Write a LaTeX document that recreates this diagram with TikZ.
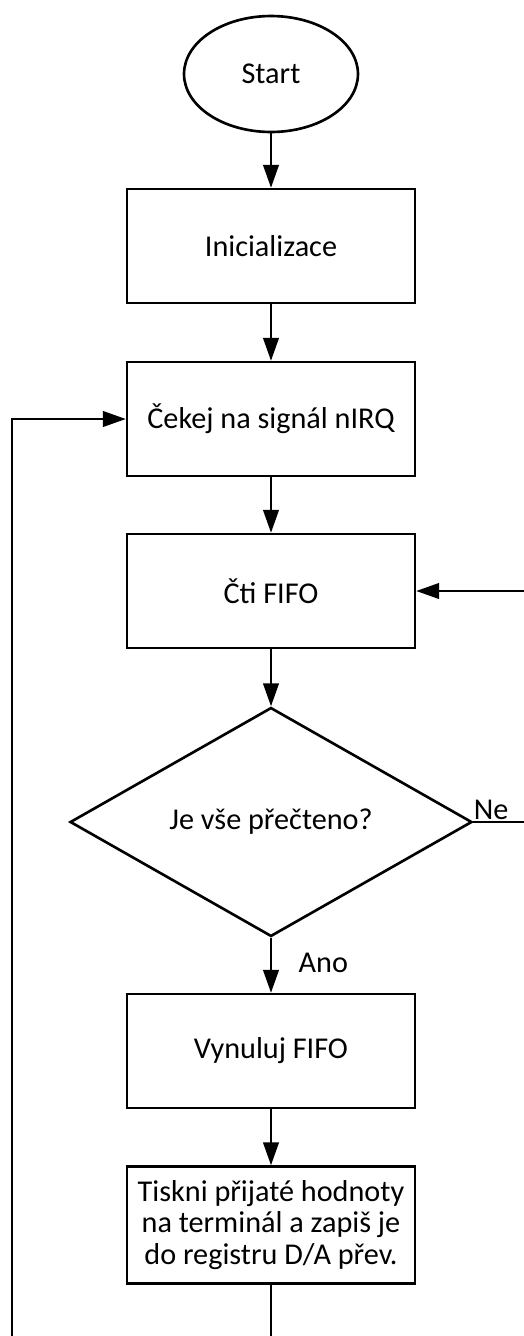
\documentclass[tikz,border=0pt]{standalone}
\usepackage{fontspec}
\setmainfont{Carlito}
\usepackage{tikz}
\usetikzlibrary{shapes.geometric, arrows.meta, positioning, calc}

\tikzset{
  procbox/.style={draw, line width=1.5pt, minimum width=5.76cm, minimum height=2.28cm,
    align=center, inner sep=2pt},
  flow/.style={line width=0.85pt, -{Triangle[length=13pt, width=9pt]}},
  plainline/.style={line width=0.85pt}
}

\begin{document}
\begin{tikzpicture}[x=0.02cm, y=-0.02cm, font=\fontsize{17.2}{17.9}\selectfont]
  \useasboundingbox (0, 0) rectangle (524, 1336);

  % Start
  \node[draw, ellipse, line width=1.5pt, minimum width=3.48cm, minimum height=2.32cm, inner sep=0pt]
    (start) at (271, 74) {Start};

  % Steps
  \node[procbox] (init) at (271, 246) {Inicializace};
  \node[procbox] (wait) at (271, 419) {Čekej na signál nIRQ};
  \node[procbox] (read) at (271, 591) {Čti FIFO};

  % Decision
  \node[draw, diamond, line width=1.5pt, minimum width=8.04cm, minimum height=4.58cm, inner sep=0pt]
    (check) at (271, 822) {Je vše přečteno?};

  \node[procbox] (clear) at (271, 1051) {Vynuluj FIFO};
  \node[procbox, minimum height=2.34cm] (print) at (271, 1225)
    {Tiskni přijaté hodnoty\\na terminál a zapiš je\\do registru D/A přev.};

  % Edge points of the loops
  \coordinate (neout) at (524, 822);
  \coordinate (nein) at (524, 591);
  \coordinate (loopdown) at (271, 1336);
  \coordinate (loopup) at (12, 1336);

  % Main flow
  \draw[flow] (start) -- (init);
  \draw[flow] (init) -- (wait);
  \draw[flow] (wait) -- (read);
  \draw[flow] (read) -- (check);
  \draw[flow] (check) -- node[right=12pt, pos=0.45] (ano) {Ano} (clear);
  \draw[flow] (clear) -- (print);

  % Loops
  \draw[plainline] (check.east) -- node[above, pos=0.35, inner sep=1pt] (ne) {Ne} (neout);
  \draw[flow] (nein) -- (read.east);
  \draw[plainline] (print) -- (loopdown);
  \draw[flow] (loopup) |- (wait.west);
\end{tikzpicture}
\end{document}
